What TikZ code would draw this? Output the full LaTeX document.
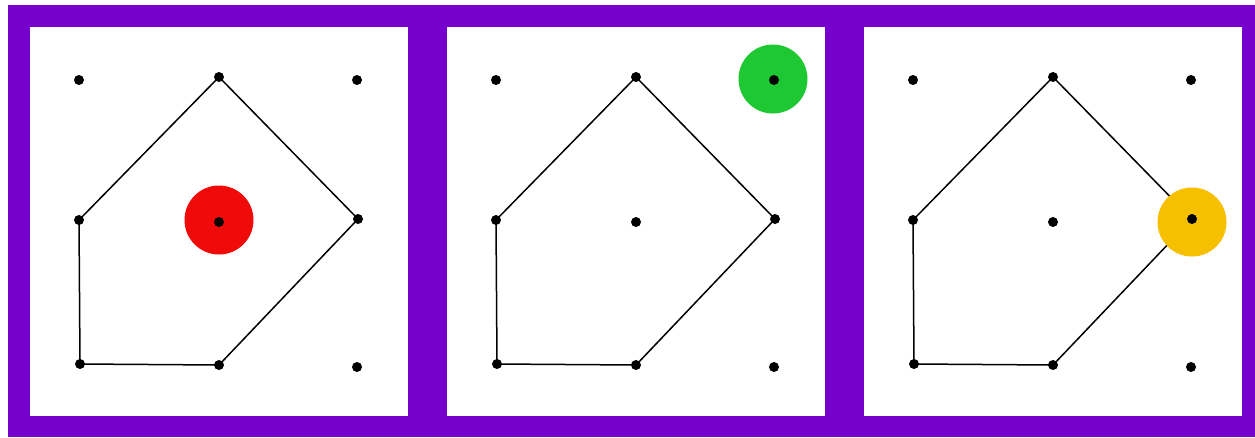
\documentclass[tikz,border=0pt]{standalone}
\definecolor{frame}{RGB}{118,0,204}
\definecolor{hred}{RGB}{240,10,10}
\definecolor{hgreen}{RGB}{30,200,50}
\definecolor{hyellow}{RGB}{246,192,0}
\begin{document}
\begin{tikzpicture}[x=1pt,y=-1pt,
  panel/.style={fill=white,draw=none},
  dot/.style={circle,fill=black,inner sep=0pt,minimum size=10pt},
  edge/.style={draw=black,line width=1.5pt},
  hilite/.style={circle,inner sep=0pt,minimum size=69pt}]
\useasboundingbox (0,0) rectangle (1255,437);
\fill[white] (0,0) rectangle (1255,437);
\fill[frame] (8,5) rectangle (1255,437);
\foreach \p/\ox/\col/\hx/\hy in {1/0/hred/219/220, 2/417/hgreen/356/79, 3/834/hyellow/358/222}{
  \begin{scope}[xshift=\ox]
    \fill (30,27) [panel] rectangle (408,416);
    \coordinate (a\p) at (79,80);
    \coordinate (b\p) at (219,77);
    \coordinate (c\p) at (357,80);
    \coordinate (d\p) at (79,220);
    \coordinate (e\p) at (219,222);
    \coordinate (f\p) at (358,219);
    \coordinate (g\p) at (80,364);
    \coordinate (h\p) at (219,365);
    \coordinate (i\p) at (357,367);
    \draw[edge] (b\p) -- (f\p) -- (h\p) -- (g\p) -- (d\p) -- cycle;
    \node[hilite,fill=\col] (hl\p) at (\hx,\hy) {};
    \foreach \n in {a,b,c,d,e,f,g,h,i}{\node[dot] (\n\p n) at (\n\p) {};}
  \end{scope}
}
\end{tikzpicture}
\end{document}
